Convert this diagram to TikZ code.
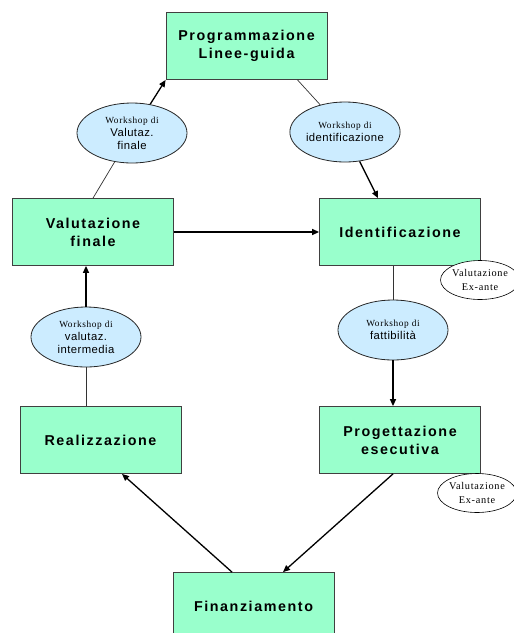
\documentclass[tikz,border=0pt]{standalone}
\usepackage{fontspec}
\setmainfont{Liberation Serif}
\newfontfamily\boxfont[LetterSpace=11]{Liberation Sans}
\newfontfamily\ellfont[LetterSpace=4]{Liberation Sans}
\newfontfamily\serfont[LetterSpace=7]{Liberation Serif}
\usetikzlibrary{arrows.meta,shapes.geometric,calc}
\definecolor{boxgreen}{HTML}{99FFCC}
\definecolor{ellblue}{HTML}{CCECFF}
\begin{document}
\begin{tikzpicture}[x=1pt,y=-1pt,
 stepbox/.style={draw=black!75, line width=0.8pt, fill=boxgreen, minimum width=161pt, minimum height=67pt, inner sep=0pt, align=center, font=\boxfont\bfseries\fontsize{14.3}{18}\selectfont},
 wsell/.style={ellipse, draw=black!85, line width=0.8pt, fill=ellblue, minimum width=110pt, minimum height=60pt, inner sep=0pt, align=center, font=\ellfont\fontsize{11.3}{13}\selectfont},
 exell/.style={ellipse, draw=black, line width=0.6pt, fill=white, minimum width=78pt, minimum height=39pt, inner sep=0pt, align=center, font=\serfont\fontsize{10.3}{13.5}\selectfont},
 arr/.style={-{Triangle[length=7pt,width=6pt]}, line width=1.3pt},
 ln/.style={line width=0.7pt, draw=black!80}]
\useasboundingbox (0,0) rectangle (514,633);
\clip (0,0) rectangle (514,633);

\node[stepbox] (prog) at (246.5,46) {Programmazione\\Linee-guida};
\node[stepbox] (valf) at (93,232) {Valutazione\\finale};
\node[stepbox] (ident) at (400,232) {Identificazione};
\node[stepbox] (real) at (100.5,440) {Realizzazione};
\node[stepbox] (proge) at (400,440) {Progettazione\\esecutiva};
\node[stepbox] (fin) at (253.5,606) {Finanziamento};

\node[wsell] (wvf) at (132,133) {{\serfont\fontsize{9.3}{13}\selectfont Workshop di}\\Valutaz.\\finale};
\node[wsell] (wid) at (345,132) {{\serfont\fontsize{9.3}{13}\selectfont Workshop di}\\identificazione};
\node[wsell] (wvi) at (86,337) {{\serfont\fontsize{9.3}{13}\selectfont Workshop di}\\valutaz.\\intermedia};
\node[wsell] (wfa) at (393,330) {{\serfont\fontsize{9.3}{13}\selectfont Workshop di}\\fattibilità};

\node[exell] (ex1) at (480,280) {Valutazione\\Ex-ante};
\node[exell] (ex2) at (477,493) {Valutazione\\Ex-ante};

\draw[ln] (valf.north) -- (wvf);
\draw[arr] (wvf) -- (prog.south west);
\draw[ln] ([xshift=51pt]prog.south) -- (wid);
\draw[arr] (wid) -- ([xshift=-22pt]ident.north);
\draw[arr] (valf.east) -- (ident.west);
\draw[ln] (wfa.north |- ident.south) -- (wfa.north);
\draw[arr] (wfa.south) -- (wfa.south |- proge.north);
\draw[arr] ([xshift=-7pt]proge.south) -- ([xshift=29.5pt]fin.north);
\draw[arr] ([xshift=-21.5pt]fin.north) -- ([xshift=21.5pt]real.south);
\draw[ln] (wvi.south |- real.north) -- (wvi.south);
\draw[arr] (wvi.north) -- (wvi.north |- valf.south);
\end{tikzpicture}
\end{document}
